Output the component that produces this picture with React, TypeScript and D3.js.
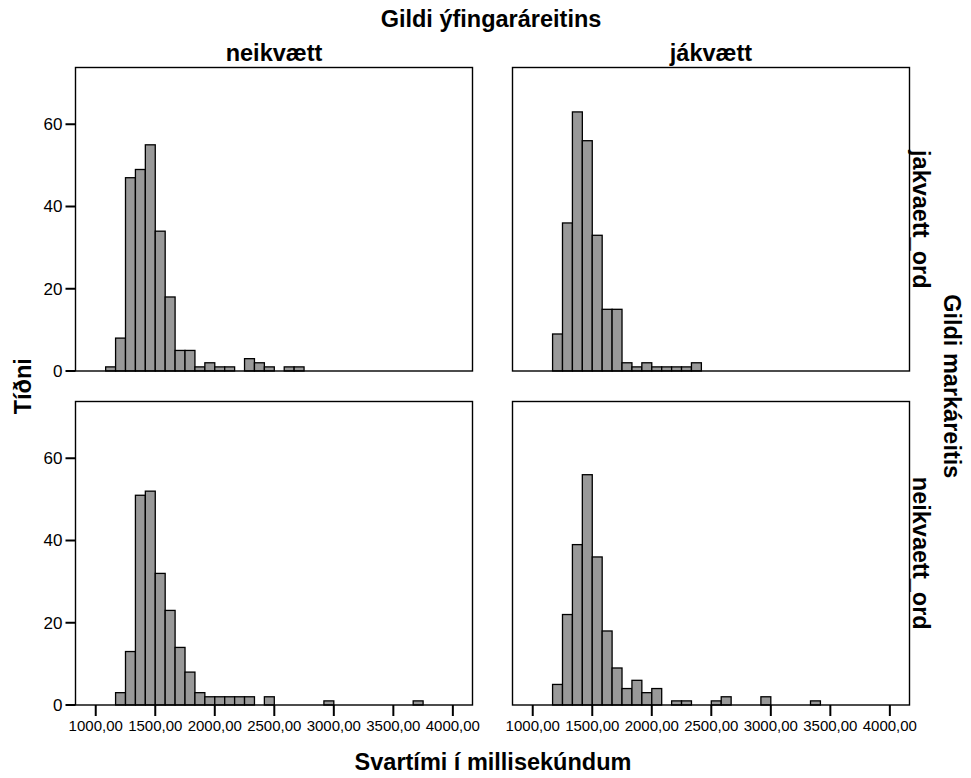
import React from 'react';
import * as d3 from 'd3';

// Histogram bins (ms): common lower edge and width for all panels
const BIN_START = 1083.333;
const BIN_WIDTH = 83.333;

const colCategories = ['neikvætt', 'jákvætt'];
const rowCategories = ['jakvaett_ord', 'neikvaett_ord'];

// Counts per bin, starting at BIN_START
const countsNeikvaettJakvaettOrd = [1, 8, 47, 49, 55, 34, 18, 5, 5, 1, 2, 1, 1, 0, 3, 2, 1, 0, 1, 1];
const countsJakvaettJakvaettOrd = [0, 9, 36, 63, 56, 33, 15, 15, 2, 1, 2, 1, 1, 1, 1, 2];
const countsNeikvaettNeikvaettOrd = [0, 3, 13, 51, 52, 32, 23, 14, 8, 3, 2, 2, 2, 2, 2, 0, 2, 0, 0, 0, 0, 0, 1, 0, 0, 0, 0, 0, 0, 0, 0, 1];
const countsJakvaettNeikvaettOrd = [0, 5, 22, 39, 56, 36, 18, 9, 4, 6, 3, 4, 0, 1, 1, 0, 0, 1, 2, 0, 0, 0, 2, 0, 0, 0, 0, 1];

const xTicks = [1000, 1500, 2000, 2500, 3000, 3500, 4000];
const yTicks = [0, 20, 40, 60];
const X_DOMAIN = [830, 4165];
const Y_DOMAIN = [0, 73.8];

const titleText = 'Gildi ýfingaráreitins';
const rowTitleText = 'Gildi markáreitis';
const xTitleText = 'Svartími í millisekúndum';
const yTitleText = 'Tíðni';

const panels = [
  { row: 0, col: 0, counts: countsNeikvaettJakvaettOrd },
  { row: 0, col: 1, counts: countsJakvaettJakvaettOrd },
  { row: 1, col: 0, counts: countsNeikvaettNeikvaettOrd },
  { row: 1, col: 1, counts: countsJakvaettNeikvaettOrd },
];

const W = 971;
const H = 778;
const FONT = '"Liberation Sans", Arial, Helvetica, sans-serif';

const panelLeft = [75.5, 512.5];
const panelTop = [67.5, 401.5];
const panelW = 397;
const panelH = 303.5;

const locale = d3.formatLocale({ decimal: ',', thousands: '', grouping: [3], currency: ['', ''] });
const fmt = locale.format('.2f');

export default function App() {
  const midY = (panelTop[0] + panelTop[1] + panelH) / 2;
  return (
    <svg
      width={W}
      height={H}
      style={{ position: 'absolute', left: 0, top: 0, background: '#fff' }}
      fontFamily={FONT}
    >
      <rect x={0} y={0} width={W} height={H} fill="#fff" />
      <text x={491} y={27} textAnchor="middle" fontWeight="bold" fontSize={23.5}>
        {titleText}
      </text>
      {colCategories.map((c, i) => (
        <text
          key={c}
          x={panelLeft[i] + panelW / 2}
          y={61}
          textAnchor="middle"
          fontWeight="bold"
          fontSize={23.5}
        >
          {c}
        </text>
      ))}
      {rowCategories.map((r, i) => (
        <text
          key={r}
          transform={`translate(913, ${panelTop[i] + panelH / 2}) rotate(90)`}
          textAnchor="middle"
          fontWeight="bold"
          fontSize={23.5}
        >
          {r}
        </text>
      ))}
      <text
        transform={`translate(944, ${midY}) rotate(90)`}
        textAnchor="middle"
        fontWeight="bold"
        fontSize={23.5}
      >
        {rowTitleText}
      </text>
      <text
        transform={`translate(31, ${midY}) rotate(-90)`}
        textAnchor="middle"
        fontWeight="bold"
        fontSize={23.5}
      >
        {yTitleText}
      </text>
      <text x={493} y={770} textAnchor="middle" fontWeight="bold" fontSize={23.5}>
        {xTitleText}
      </text>

      {panels.map((p) => {
        const x0 = panelLeft[p.col];
        const y0 = panelTop[p.row];
        const x = d3.scaleLinear().domain(X_DOMAIN).range([x0, x0 + panelW]);
        const y = d3.scaleLinear().domain(Y_DOMAIN).range([y0 + panelH, y0]);
        return (
          <g key={`${p.row}-${p.col}`}>
            {p.counts.map((c, i) => {
              if (c <= 0) return null;
              const lo = BIN_START + i * BIN_WIDTH;
              const hi = lo + BIN_WIDTH;
              return (
                <rect
                  key={i}
                  x={x(lo)}
                  y={y(c)}
                  width={x(hi) - x(lo)}
                  height={y(0) - y(c)}
                  fill="#999999"
                  stroke="#000"
                  strokeWidth={1.3}
                />
              );
            })}
            <rect
              x={x0}
              y={y0}
              width={panelW}
              height={panelH}
              fill="none"
              stroke="#000"
              strokeWidth={1.4}
            />
            {p.col === 0 &&
              yTicks.map((t) => (
                <g key={t}>
                  <line x1={x0 - 10} x2={x0} y1={y(t)} y2={y(t)} stroke="#000" strokeWidth={2} />
                  <text
                    x={x0 - 13}
                    y={y(t)}
                    dy="0.35em"
                    textAnchor="end"
                    fontSize={17}
                  >
                    {t}
                  </text>
                </g>
              ))}
            {p.row === 1 &&
              xTicks.map((t) => (
                <g key={t}>
                  <line
                    x1={x(t)}
                    x2={x(t)}
                    y1={y0 + panelH}
                    y2={y0 + panelH + 11}
                    stroke="#000"
                    strokeWidth={2}
                  />
                  <text x={x(t)} y={731} textAnchor="middle" fontSize={15}>
                    {fmt(t)}
                  </text>
                </g>
              ))}
          </g>
        );
      })}
    </svg>
  );
}
